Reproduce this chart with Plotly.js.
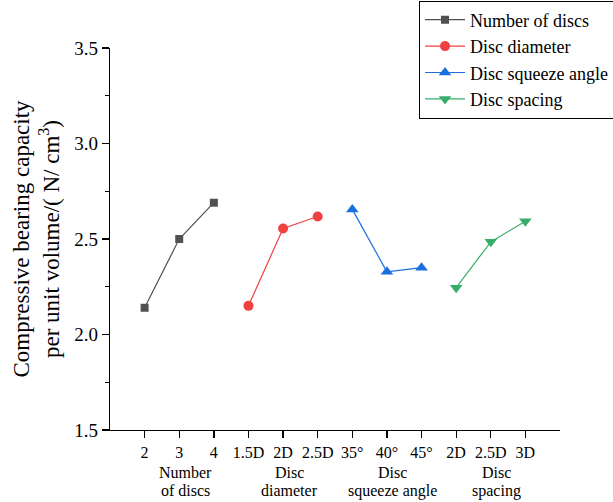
<!DOCTYPE html>
<html>
<head>
<meta charset="utf-8">
<script src="https://cdn.plot.ly/plotly-3.0.1.min.js"></script>
<style>html,body{margin:0;padding:0;background:#fff}#chart{width:613px;height:502px}</style>
</head>
<body>
<div id="chart"></div>
<script>
// ---- data ----
const seriesNames = ['Number of discs', 'Disc diameter', 'Disc squeeze angle', 'Disc spacing'];
const xNumberOfDiscs = [1, 2, 3];
const yNumberOfDiscs = [2.14, 2.50, 2.69];
const xDiscDiameter = [4, 5, 6];
const yDiscDiameter = [2.15, 2.555, 2.618];
const xSqueezeAngle = [7, 8, 9];
const ySqueezeAngle = [2.655, 2.328, 2.35];
const xDiscSpacing = [10, 11, 12];
const yDiscSpacing = [2.245, 2.485, 2.593];
const tickPositions = [1, 2, 3, 4, 5, 6, 7, 8, 9, 10, 11, 12];
const tickLabels = ['2', '3', '4', '1.5D', '2D', '2.5D', '35°', '40°', '45°', '2D', '2.5D', '3D'];
const groupCenters = [2, 5, 8, 11];
const groupLabelsTop = ['Number', 'Disc', 'Disc', 'Disc'];
const groupLabelsBottom = ['of discs', 'diameter', 'squeeze angle', 'spacing'];

const FONT = 'Liberation Serif';
const colors = ['#515151', '#F14040', '#1A6FDF', '#37AD6B'];
const symbols = ['square', 'circle', 'triangle-up', 'triangle-down'];
const sizes = [8, 10, 11, 11];
const xs = [xNumberOfDiscs, xDiscDiameter, xSqueezeAngle, xDiscSpacing];
const ys = [yNumberOfDiscs, yDiscDiameter, ySqueezeAngle, yDiscSpacing];

const traces = seriesNames.map((name, i) => ({
  type: 'scatter',
  mode: 'lines+markers',
  name: name,
  x: xs[i],
  y: ys[i],
  line: {color: colors[i], width: 1.2},
  marker: {color: colors[i], symbol: symbols[i], size: sizes[i]}
}));

const annotations = [];
groupCenters.forEach((c, i) => {
  annotations.push({xref: 'x', yref: 'paper', x: c, y: -0.1118, xshift: 6, yanchor: 'middle', xanchor: 'center',
    text: groupLabelsTop[i], showarrow: false, font: {family: FONT, size: 16, color: '#000'}});
  annotations.push({xref: 'x', yref: 'paper', x: c, y: -0.1589, xshift: 6, yanchor: 'middle', xanchor: 'center',
    text: groupLabelsBottom[i], showarrow: false, font: {family: FONT, size: 16, color: '#000'}});
});

const layout = {
  width: 613, height: 502,
  margin: {l: 110, r: 53, t: 48, b: 72, autoexpand: false},
  paper_bgcolor: '#fff', plot_bgcolor: '#fff',
  font: {family: FONT, color: '#000'},
  showlegend: true,
  legend: {
    x: 0.6867, y: 1.1243, xanchor: 'left', yanchor: 'top',
    bordercolor: '#000', borderwidth: 1, bgcolor: '#fff',
    font: {family: FONT, size: 18, color: '#000'},
    itemwidth: 40, tracegroupgap: 0
  },
  xaxis: {
    range: [0, 13], showgrid: false, zeroline: false,
    showline: true, linecolor: '#000', linewidth: 1.3,
    tickmode: 'array', tickvals: tickPositions, ticktext: tickLabels,
    ticks: 'outside', ticklen: 7, tickwidth: 1.3, tickcolor: '#000',
    tickfont: {family: FONT, size: 16, color: '#000'}
  },
  yaxis: {
    range: [1.5, 3.5], showgrid: false, zeroline: false,
    showline: true, linecolor: '#000', linewidth: 1.3,
    tick0: 1.5, dtick: 0.5, tickformat: '.1f',
    ticks: 'outside', ticklen: 7, tickwidth: 1.3, tickcolor: '#000',
    minor: {dtick: 0.25, ticks: 'outside', ticklen: 4, tickwidth: 1.3, tickcolor: '#000', showgrid: false},
    tickfont: {family: FONT, size: 19, color: '#000'},
    title: {
      text: 'Compressive bearing capacity<br>per unit volume/( N/ cm<sup>3</sup>)',
      font: {family: FONT, size: 23, color: '#000'},
      standoff: 8
    }
  },
  annotations: annotations
};

Plotly.newPlot('chart', traces, layout, {displayModeBar: false, staticPlot: true});
</script>
</body>
</html>
